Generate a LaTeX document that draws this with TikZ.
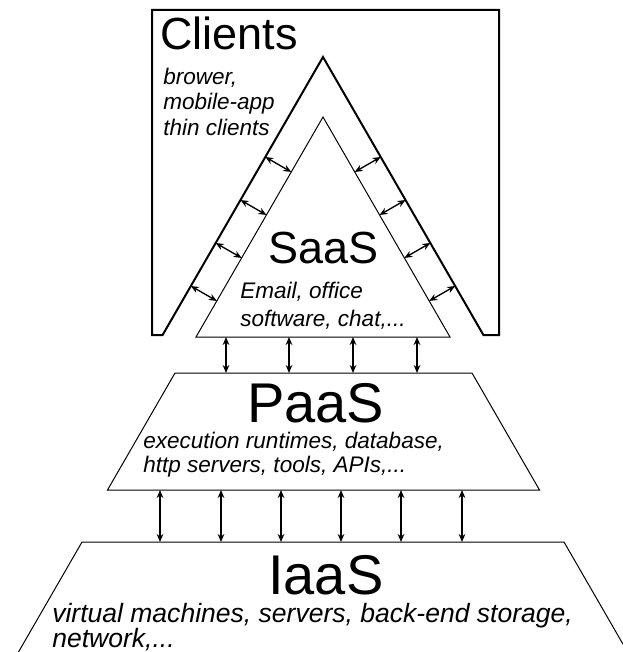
\documentclass[tikz,border=0pt]{standalone}
\usepackage{fontspec}
\setmainfont{Liberation Sans}
\usetikzlibrary{arrows.meta,calc}
\begin{document}
\begin{tikzpicture}[x=0.75pt,y=-0.75pt,
  outline/.style={draw=black,line width=1.5pt,line join=miter},
  layer/.style={draw=black,line width=0.75pt,line join=miter},
  link/.style={{Stealth[length=6pt,width=5pt]}-{Stealth[length=6pt,width=5pt]},line width=1pt},
  bigtitle/.style={inner sep=0pt,anchor=base west,font=\fontsize{33.75}{40}\selectfont},
  hugetitle/.style={inner sep=0pt,anchor=base west,font=\fontsize{42}{48}\selectfont},
  smalltext/.style={inner sep=0pt,anchor=base west,font=\fontsize{16.9}{20}\selectfont\itshape},
  iaastext/.style={inner sep=0pt,anchor=base west,font=\fontsize{19.9}{24}\selectfont\itshape}
]
\useasboundingbox (0,0) rectangle (623,652);

% key corners
\coordinate (ca) at (323,57);
\coordinate (cl) at (162.6,335);
\coordinate (cr) at (483.4,335);
\coordinate (sa) at (323,117);
\coordinate (sl) at (196,337);
\coordinate (sr) at (450,337);

% Clients
\draw[outline] (152,10) -- (499,10) -- (499,335) -- (cr) -- (ca) -- (cl) -- (152,335) -- cycle;
% SaaS
\draw[layer] (sa) -- (sr) -- (sl) -- cycle;
% PaaS
\draw[layer] (175,373) -- (472,373) -- (539.5,490) -- (107.5,490) -- cycle;
% IaaS
\draw[layer] (18.5,652) -- (82,542) -- (564,542) -- (623,644.2);

% diagonal links
\foreach \t [count=\i] in {0.3597,0.5144,0.669,0.8237}{
  \coordinate (lo\i) at ($(ca)!\t!(cl)$);
  \coordinate (li\i) at ($(sa)!(lo\i)!(sl)$);
  \coordinate (ro\i) at ($(ca)!\t!(cr)$);
  \coordinate (ri\i) at ($(sa)!(ro\i)!(sr)$);
  \draw[link] (lo\i) -- (li\i);
  \draw[link] (ro\i) -- (ri\i);
}

% SaaS - PaaS links
\foreach \x [count=\i] in {226,289,353,417}{
  \coordinate (sp\i) at (\x,337);
  \coordinate (pt\i) at (\x,373);
  \draw[link] (sp\i) -- (pt\i);
}
% PaaS - IaaS links
\foreach \x [count=\i] in {160,221,281,341,401,462}{
  \coordinate (pb\i) at (\x,490);
  \coordinate (it\i) at (\x,542);
  \draw[link] (pb\i) -- (it\i);
}

% texts
\node[bigtitle] (clients) at (160,50) {Clients};
\node[smalltext] (c1) at (163,85) {brower,};
\node[smalltext] (c2) at (163,110) {mobile-app};
\node[smalltext] (c3) at (163,136) {thin clients};

\node[bigtitle] (saas) at (268,263) {SaaS};
\node[smalltext] (s1) at (240,298) {Email, office};
\node[smalltext] (s2) at (240,326) {software, chat,...};

\node[hugetitle] (paas) at (247,422) {PaaS};
\node[smalltext] (p1) at (143,448) {execution runtimes, database,};
\node[smalltext] (p2) at (143,472) {http servers, tools, APIs,...};

\node[hugetitle] (iaas) at (268,594) {IaaS};
\node[iaastext] (i1) at (52,622) {virtual machines, servers, back-end storage,};
\node[iaastext] (i2) at (52,647) {network,...};
\end{tikzpicture}
\end{document}
